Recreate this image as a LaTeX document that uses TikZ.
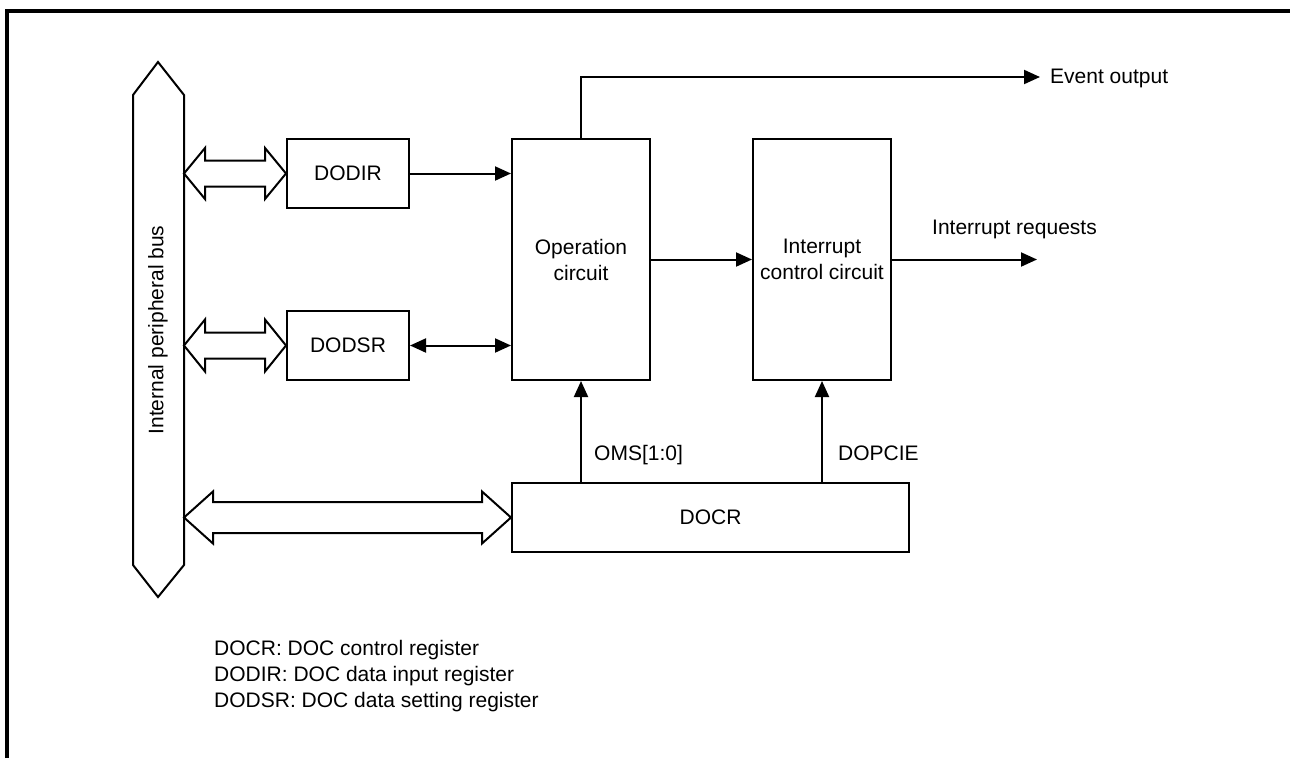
\documentclass[tikz,border=0pt]{standalone}
\usepackage{fontspec}
\setmainfont{Liberation Sans}
\usetikzlibrary{arrows.meta,calc}
\begin{document}
\begin{tikzpicture}[x=1pt,y=-1pt,
  every node/.style={font=\fontsize{21}{26}\selectfont, inner sep=0pt},
  legend/.style={anchor=base west},
  box/.style={draw, line width=2pt, fill=white, align=center},
  conn/.style={line width=2pt},
  arr/.style={conn, -{Triangle[length=16pt,width=14pt]}},
  darr/.style={conn, {Triangle[length=16pt,width=14pt]}-{Triangle[length=16pt,width=14pt]}},
  blk/.style={draw, line width=2pt, fill=white, line join=miter},
  frameline/.style={line width=3.5pt}]
\useasboundingbox (0,0) rectangle (1290,758);
% frame
\draw[frameline] (7,758) -- (7,11) -- (1290,11);
% bus
\draw[blk] (133,95) -- (158,62) -- (184,95) -- (184,565) -- (158,597) -- (133,565) -- cycle;
\node[rotate=90] (bus) at (158,330) {Internal peripheral bus};
\coordinate (busE) at (184,330);
% boxes
\node[box, minimum width=122pt, minimum height=69pt] (dodir) at (348,173.5) {DODIR};
\node[box, minimum width=122pt, minimum height=69pt] (dodsr) at (348,345.5) {DODSR};
\node[box, minimum width=138pt, minimum height=241pt] (op) at (581,259.5) {Operation\\circuit};
\node[box, minimum width=138pt, minimum height=241pt] (int) at (822,259.5) {Interrupt\\control circuit};
\node[box, minimum width=397pt, minimum height=69pt] (docr) at (710.5,517.5) {DOCR};
% block double arrows
\newcommand{\blockarr}[5]{%
  \draw[blk] let \p1=(#1), \p2=(#2) in
    (\x1,\y1) -- (\x1+#5,\y1+#4) -- (\x1+#5,\y1+#3) -- (\x2-#5,\y1+#3) -- (\x2-#5,\y1+#4)
    -- (\x2,\y1) -- (\x2-#5,\y1-#4) -- (\x2-#5,\y1-#3) -- (\x1+#5,\y1-#3) -- (\x1+#5,\y1-#4) -- cycle;}
\blockarr{busE |- dodir.west}{dodir.west}{13pt}{25.5pt}{21pt}
\blockarr{busE |- dodsr.west}{dodsr.west}{13pt}{26pt}{21pt}
\blockarr{busE |- docr.west}{docr.west}{15.5pt}{26pt}{29pt}
% connectors
\draw[arr] (dodir.east) -- (dodir.east -| op.west);
\draw[darr] (dodsr.east) -- (dodsr.east -| op.west);
\draw[arr] (op.east) -- (int.west);
\coordinate (irq) at (1037,259.5);
\draw[arr] (int.east) -- (irq);
\node[anchor=base west] (irqlbl) at (932,234) {Interrupt requests};
\coordinate (evt) at (1040,77);
\draw[arr] (op.north) -- (op.north |- evt) -- (evt);
\node[anchor=base west] (evtlbl) at (1050,83) {Event output};
\draw[arr] (op.south |- docr.north) -- (op.south);
\draw[arr] (int.south |- docr.north) -- (int.south);
\node[anchor=base west] (oms) at (594,460) {OMS[1:0]};
\node[anchor=base west] (dopcie) at (838,460) {DOPCIE};
% legend
\node[legend] (leg1) at (214,655) {DOCR: DOC control register};
\node[legend] (leg2) at (214,681) {DODIR: DOC data input register};
\node[legend] (leg3) at (214,707) {DODSR: DOC data setting register};
\end{tikzpicture}
\end{document}
